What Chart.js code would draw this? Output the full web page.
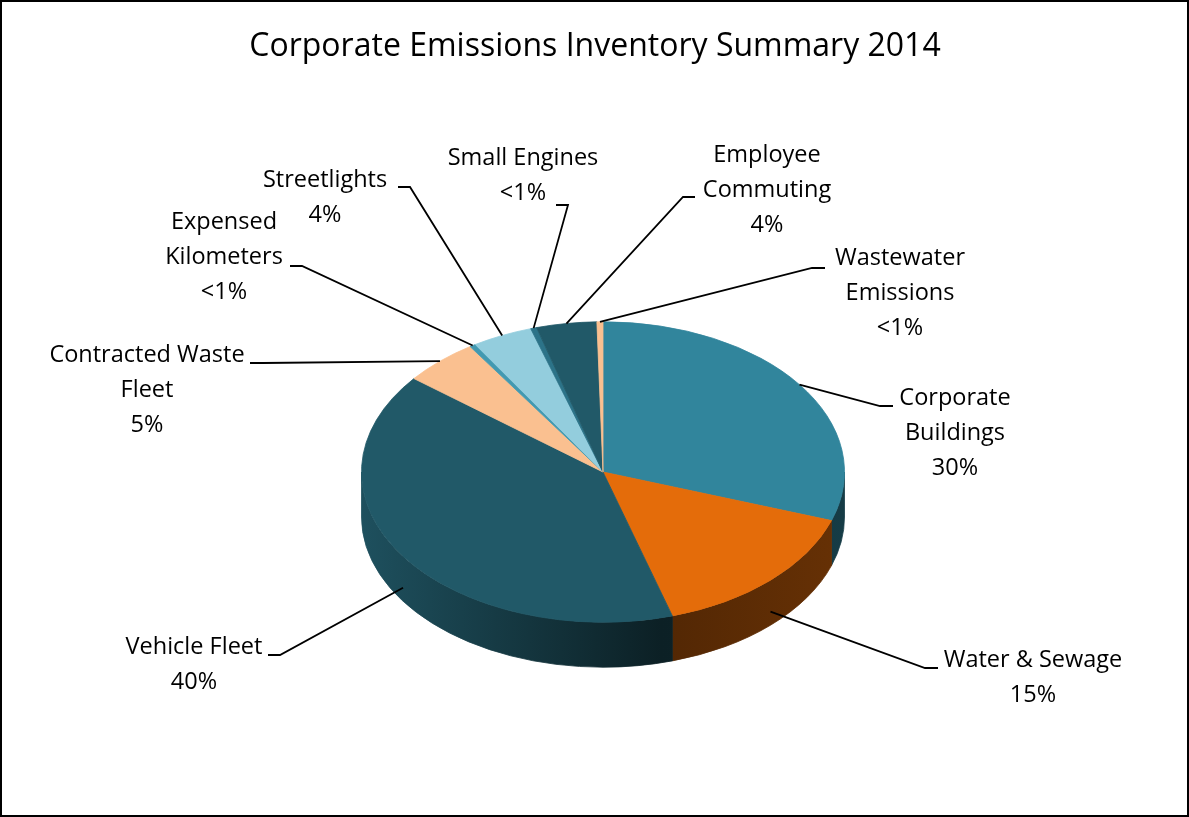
<!DOCTYPE html>
<html>
<head>
<meta charset="utf-8">
<title>Corporate Emissions Inventory Summary 2014</title>
<script src="https://cdn.jsdelivr.net/npm/chart.js@4.4.0/dist/chart.umd.min.js"></script>
<style>
  html, body { margin: 0; padding: 0; background: #fff; }
  canvas { display: block; }
</style>
</head>
<body>
<canvas id="emissionsChart" width="1189" height="817"></canvas>
<script>
// Emission sources, clockwise from 12 o'clock
const categories = ['Corporate Buildings', 'Water & Sewage', 'Vehicle Fleet', 'Contracted Waste Fleet',
    'Expensed Kilometers', 'Streetlights', 'Small Engines', 'Employee Commuting', 'Wastewater Emissions'];
const shares = [30, 15, 40, 5, 0.4, 4, 0.4, 4, 0.4];
const shareLabels = ['30%', '15%', '40%', '5%', '<1%', '4%', '<1%', '4%', '<1%'];
const labelLines = [['Corporate', 'Buildings'], ['Water & Sewage'], ['Vehicle Fleet'], ['Contracted Waste', 'Fleet'],
    ['Expensed', 'Kilometers'], ['Streetlights'], ['Small Engines'], ['Employee', 'Commuting'], ['Wastewater', 'Emissions']];
const sliceColors = ['#31859C', '#E46C0A', '#215968', '#FAC090', '#4299B1', '#93CDDD', '#2C7388', '#215968', '#FAC090'];

// where each callout text sits: text centre x, first line y, leader tail [elbow x, end x, y]
const calloutLayout = [
    { x: 955, y: 398, tail: [880, 893, 406] },
    { x: 1033, y: 660, tail: [925, 938, 668] },
    { x: 194, y: 647, tail: [280, 268, 655] },
    { x: 147, y: 355, tail: [263, 250, 363] },
    { x: 224, y: 222, tail: [302, 290, 266] },
    { x: 325, y: 180, tail: [410, 398, 187] },
    { x: 523, y: 158, tail: [568, 556, 205] },
    { x: 767, y: 155, tail: [683, 695, 197] },
    { x: 900, y: 258, tail: [812, 825, 268] }
];

const TILT = 0.622;     // vertical squash of the pie top
const DEPTH = 45;       // thickness of the pie wall in px
const LINE_H = 35;

function shade(hex, f) {
    const n = parseInt(hex.slice(1), 16);
    const r = Math.round(((n >> 16) & 255) * f);
    const g = Math.round(((n >> 8) & 255) * f);
    const b = Math.round((n & 255) * f);
    return `rgb(${r},${g},${b})`;
}

// Draws the side wall under the front half, then squashes the top face
const tiltPlugin = {
    id: 'tilt3d',
    beforeDatasetsDraw(chart) {
        const ctx = chart.ctx;
        const arcs = chart.getDatasetMeta(0).data;
        const cx = arcs[0].x, cy = arcs[0].y, r = arcs[0].outerRadius;
        const ry = r * TILT;

        arcs.forEach((arc, i) => {
            const a = Math.max(arc.startAngle, 0);
            const b = Math.min(arc.endAngle, Math.PI);
            if (b <= a) return;
            const grad = ctx.createLinearGradient(cx - r, 0, cx + r, 0);
            grad.addColorStop(0, shade(sliceColors[i], 0.9));
            grad.addColorStop(0.62, shade(sliceColors[i], 0.36));
            grad.addColorStop(1, shade(sliceColors[i], 0.45));
            ctx.beginPath();
            ctx.ellipse(cx, cy, r, ry, 0, a, b);
            ctx.lineTo(cx + r * Math.cos(b), cy + ry * Math.sin(b) + DEPTH);
            ctx.ellipse(cx, cy + DEPTH, r, ry, 0, b, a, true);
            ctx.closePath();
            ctx.fillStyle = grad;
            ctx.fill();
            ctx.strokeStyle = grad;
            ctx.lineWidth = 0.8;
            ctx.stroke();
        });

        ctx.save();
        ctx.translate(cx, cy);
        ctx.scale(1, TILT);
        ctx.translate(-cx, -cy);
    },
    afterDatasetsDraw(chart) {
        chart.ctx.restore();
    }
};

// Title, callouts with leader lines, and the outer frame
const calloutPlugin = {
    id: 'callouts',
    afterDraw(chart) {
        const ctx = chart.ctx;
        const arcs = chart.getDatasetMeta(0).data;
        const cx = arcs[0].x, cy = arcs[0].y, r = arcs[0].outerRadius;
        const ry = r * TILT;

        ctx.save();
        ctx.fillStyle = '#000';
        ctx.textAlign = 'center';
        ctx.textBaseline = 'middle';
        ctx.font = '32px "Open Sans"';
        ctx.fillText('Corporate Emissions Inventory Summary 2014', 595, 47);

        ctx.strokeStyle = '#000';
        ctx.lineWidth = 1.8;
        ctx.font = '23.5px "Open Sans"';
        arcs.forEach((arc, i) => {
            const mid = (arc.startAngle + arc.endAngle) / 2;
            let ax = cx + r * Math.cos(mid);
            let ay = cy + ry * Math.sin(mid);
            if (Math.sin(mid) > 0) ay += DEPTH * 0.7;
            const lay = calloutLayout[i];
            ctx.beginPath();
            ctx.moveTo(ax, ay);
            ctx.lineTo(lay.tail[0], lay.tail[2]);
            ctx.lineTo(lay.tail[1], lay.tail[2]);
            ctx.stroke();

            const lines = labelLines[i].concat(shareLabels[i]);
            lines.forEach((t, j) => ctx.fillText(t, lay.x, lay.y + j * LINE_H));
        });

        ctx.lineWidth = 2;
        ctx.strokeRect(1, 1, chart.width - 2, chart.height - 2);
        ctx.restore();
    }
};

const ctx = document.getElementById('emissionsChart').getContext('2d');
const emissionsChart = new Chart(ctx, {
    type: 'pie',
    data: {
        labels: categories,
        datasets: [{
            data: shares,
            backgroundColor: sliceColors,
            borderColor: sliceColors,
            borderWidth: 1,
            clip: false
        }]
    },
    options: {
        responsive: false,
        animation: false,
        layout: {
            padding: { left: 361, right: 344, top: 230, bottom: 103 }
        },
        plugins: {
            legend: { display: false },
            title: { display: false },
            tooltip: { enabled: false }
        }
    },
    plugins: [tiltPlugin, calloutPlugin]
});
</script>
</body>
</html>
